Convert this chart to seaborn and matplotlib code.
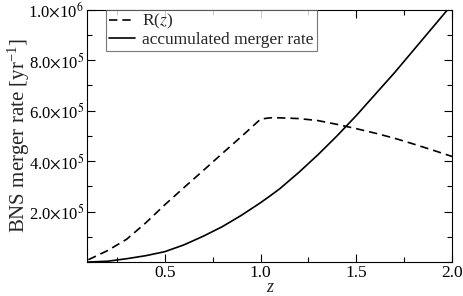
import matplotlib
matplotlib.use("Agg")
import matplotlib.pyplot as plt
import seaborn as sns
import pandas as pd
from matplotlib.ticker import FixedLocator, FuncFormatter, MultipleLocator

z = [0.1, 0.2, 0.3, 0.4, 0.5, 0.6, 0.7, 0.8, 0.9, 1.0, 1.05, 1.1, 1.2, 1.3, 1.4, 1.5, 1.6, 1.7, 1.8, 1.9, 2.0]
rate_R = [0.009, 0.045, 0.09, 0.155, 0.227, 0.295, 0.362, 0.43, 0.497, 0.566, 0.571, 0.571, 0.568, 0.56, 0.545,
          0.528, 0.51, 0.49, 0.467, 0.443, 0.418]
rate_acc = [0.0, 0.003, 0.013, 0.025, 0.041, 0.068, 0.102, 0.14, 0.185, 0.235, 0.262, 0.29, 0.355, 0.425, 0.50,
            0.58, 0.665, 0.75, 0.84, 0.93, 1.02]
rate_R = [v * 1e6 for v in rate_R]
rate_acc = [v * 1e6 for v in rate_acc]
labels = ["R($z$)", "accumulated merger rate"]
xticks = [0.5, 1.0, 1.5, 2.0]
yticks = [2e5, 4e5, 6e5, 8e5, 1e6]

sns.set_style("ticks")
plt.rcParams["font.family"] = ["Liberation Serif", "DejaVu Serif"]
plt.rcParams["mathtext.fontset"] = "stix"

df = pd.DataFrame({"z": z + z, "rate": rate_R + rate_acc,
                   "series": [labels[0]] * len(z) + [labels[1]] * len(z)})

fig = plt.figure(figsize=(4.63, 2.96), dpi=100)
ax = fig.add_axes([87 / 463, 34 / 296, 365 / 463, 252.5 / 296])

sns.lineplot(data=df, x="z", y="rate", style="series", style_order=labels,
             dashes={labels[0]: (5, 3), labels[1]: ""}, color="black", linewidth=1.2, ax=ax)

ax.set_xlim(0.093, 2.0)
ax.set_ylim(0, 1e6)
ax.xaxis.set_major_locator(FixedLocator(xticks))
ax.xaxis.set_minor_locator(MultipleLocator(0.25))
ax.yaxis.set_major_locator(FixedLocator(yticks))
ax.yaxis.set_minor_locator(MultipleLocator(1e5))
ax.xaxis.set_major_formatter(FuncFormatter(lambda v, p: f"{v:.1f}"))


def yfmt(v, p):
    e = 0
    m = v
    while m >= 10:
        m /= 10
        e += 1
    return rf"{m:.1f}$\times$10$^{{{e}}}$"


ax.yaxis.set_major_formatter(FuncFormatter(yfmt))
ax.tick_params(which="both", direction="in", top=True, right=True, width=0.8, colors="black")
ax.tick_params(axis="x", labelsize=12.5, pad=2)
ax.tick_params(axis="y", labelsize=12, pad=2)
ax.tick_params(which="major", length=6)
ax.tick_params(which="minor", length=3.5)
for s in ax.spines.values():
    s.set_color("black")
    s.set_linewidth(0.8)
    s.set_visible(True)

ax.set_xlabel("z", fontsize=13, fontstyle="italic", labelpad=-1)
ax.set_ylabel("BNS merger rate [yr$^{\\mathregular{-1}}$]", fontsize=15)
ax.yaxis.set_label_coords(-0.15, 0.5)

leg = ax.legend(loc="upper left", bbox_to_anchor=(0.052, 1.0), fontsize=12.5, frameon=True, fancybox=False,
                borderpad=0.15, handlelength=1.5, handletextpad=0.45, labelspacing=0.05, borderaxespad=0)
leg.get_frame().set_edgecolor("#555555")
leg.get_frame().set_linewidth(0.8)
leg.set_title(None)

fig.savefig("out.png", dpi=100, facecolor="white")
